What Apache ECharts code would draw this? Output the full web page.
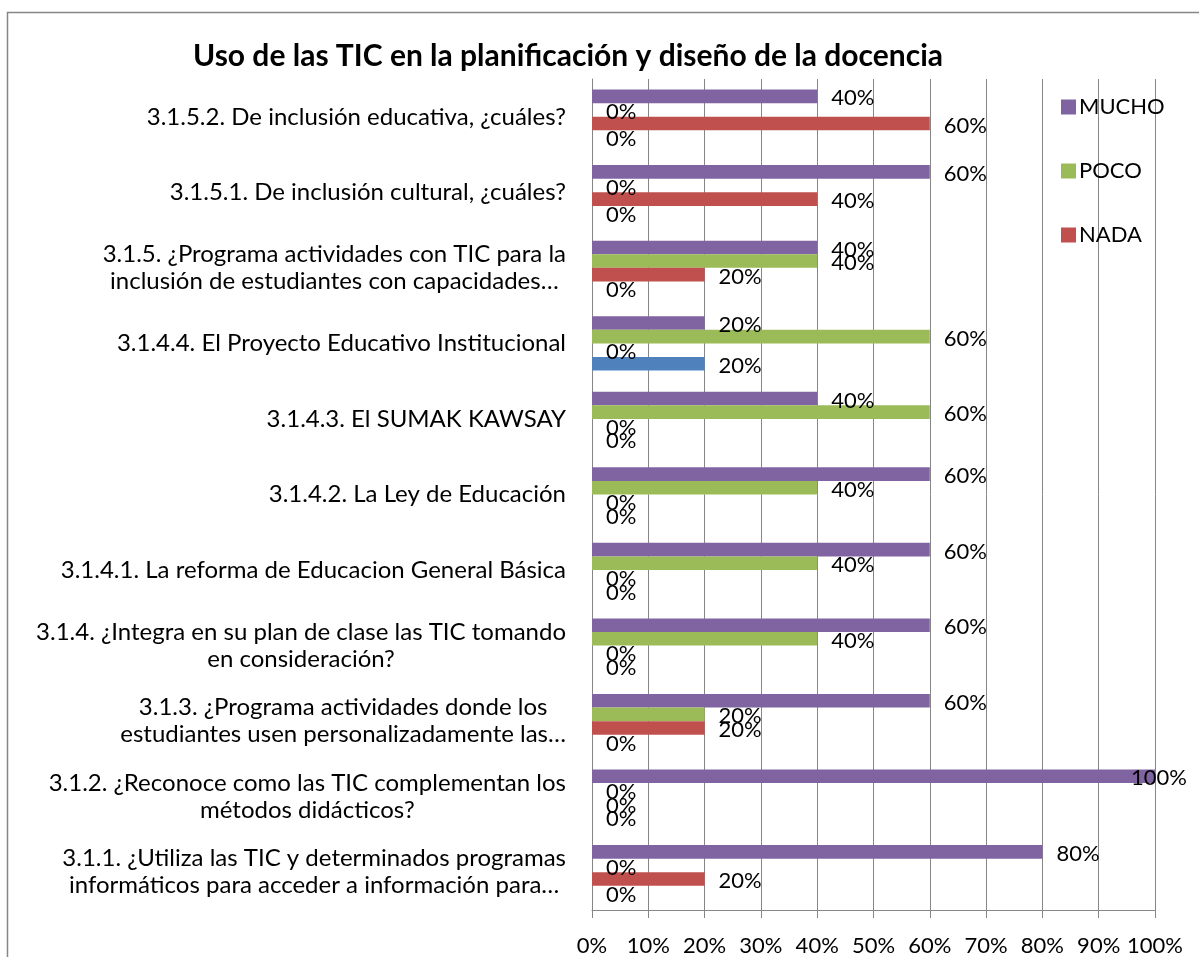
<!DOCTYPE html>
<html>
<head>
<meta charset="utf-8">
<script src="https://cdn.jsdelivr.net/npm/echarts@6/dist/echarts.min.js"></script>
<style>
html,body{margin:0;padding:0;background:#fff;}
#chart{width:1199px;height:957px;}
</style>
</head>
<body>
<div id="chart"></div>
<script>
// Categories, bottom to top (as drawn on the category axis)
const categories = [
  "3.1.1. ¿Utiliza las TIC y determinados programas\ninformáticos para acceder a información para…",
  "3.1.2. ¿Reconoce como las TIC complementan los\nmétodos didácticos?",
  "3.1.3. ¿Programa actividades donde los\nestudiantes usen personalizadamente las…",
  "3.1.4. ¿Integra en su plan de clase las TIC tomando\nen consideración?",
  "3.1.4.1. La reforma de Educacion General Básica",
  "3.1.4.2. La Ley de Educación",
  "3.1.4.3. El SUMAK KAWSAY",
  "3.1.4.4. El Proyecto Educativo Institucional",
  "3.1.5. ¿Programa actividades con TIC para la\ninclusión de estudiantes con capacidades…",
  "3.1.5.1. De inclusión cultural, ¿cuáles?",
  "3.1.5.2. De inclusión educativa, ¿cuáles?"
];
// Percent values per series (same order as categories)
const mucho  = [80, 100, 60, 60, 60, 60, 40, 20, 40, 60, 40];
const poco   = [0, 0, 20, 40, 40, 40, 60, 60, 40, 0, 0];
const nada   = [20, 0, 20, 0, 0, 0, 0, 0, 20, 40, 60];
const serie4 = [0, 0, 0, 0, 0, 0, 0, 20, 0, 0, 0];
const xTicks = [0, 10, 20, 30, 40, 50, 60, 70, 80, 90, 100];
const legendNames = ["MUCHO", "POCO", "NADA"];

const FONT = "Lato";
const chart = echarts.init(document.getElementById('chart'), null, {renderer: 'canvas'});

function barData(arr) {
  // a label that would run past the plot edge is pulled back inside
  return arr.map(v => v >= 100
    ? {value: v, label: {offset: [-38, 2]}}
    : v);
}
function makeSeries(name, arr, color) {
  return {
    name: name,
    type: 'bar',
    data: barData(arr),
    barWidth: 13.6,
    barGap: '0%',
    itemStyle: {color: color},
    label: {
      show: true,
      position: 'right',
      distance: 14,
      offset: [0, 2],
      formatter: p => p.value + '%',
      color: '#000',
      fontFamily: FONT,
      fontSize: 22
    },
    animation: false
  };
}

chart.setOption({
  backgroundColor: '#fff',
  animation: false,
  title: {
    text: 'Uso de las TIC en la planificación y diseño de la docencia',
    left: 563,
    top: 36,
    textAlign: 'center',
    textStyle: {fontFamily: FONT, fontWeight: 'bold', fontSize: 30, color: '#000'}
  },
  legend: {
    data: legendNames,
    orient: 'vertical',
    left: 1056,
    top: 91,
    icon: 'rect',
    itemWidth: 15,
    itemHeight: 15,
    itemGap: 42,
    textStyle: {fontFamily: FONT, fontSize: 22, color: '#000', lineHeight: 22, padding: [0, 0, 0, -2]}
  },
  grid: {left: 592, right: 44, top: 79, bottom: 46, containLabel: false},
  xAxis: {
    type: 'value',
    min: 0, max: 100, interval: 10,
    axisLine: {show: true, lineStyle: {color: '#868686', width: 1}},
    axisTick: {show: true, length: 8, lineStyle: {color: '#868686'}},
    splitLine: {show: true, lineStyle: {color: '#868686', width: 1}},
    axisLabel: {
      margin: 25,
      fontFamily: FONT, fontSize: 22, color: '#000',
      formatter: v => xTicks.includes(v) ? v + '%' : ''
    }
  },
  yAxis: {
    type: 'category',
    data: categories,
    axisLine: {show: true, lineStyle: {color: '#868686', width: 1}},
    axisTick: {show: false},
    splitLine: {show: false},
    axisLabel: {
      margin: 26,
      align: 'right',
      fontFamily: FONT, fontSize: 24, color: '#000', lineHeight: 27,
      formatter: v => v.split('\n').map(l => '{c|' + l + '}').join('\n'),
      rich: {c: {align: 'center', fontFamily: FONT, fontSize: 24, color: '#000', lineHeight: 27}}
    }
  },
  graphic: [{
    type: 'rect',
    shape: {x: 7.5, y: 12.5, width: 1230, height: 1000},
    style: {fill: 'none', stroke: '#868686', lineWidth: 1.5},
    silent: true, z: -1
  }],
  series: [
    makeSeries('MUCHO', mucho, '#8064A2'),
    makeSeries('POCO', poco, '#9BBB59'),
    makeSeries('NADA', nada, '#C0504D'),
    makeSeries('Serie4', serie4, '#4F81BD')
  ]
});
</script>
</body>
</html>
